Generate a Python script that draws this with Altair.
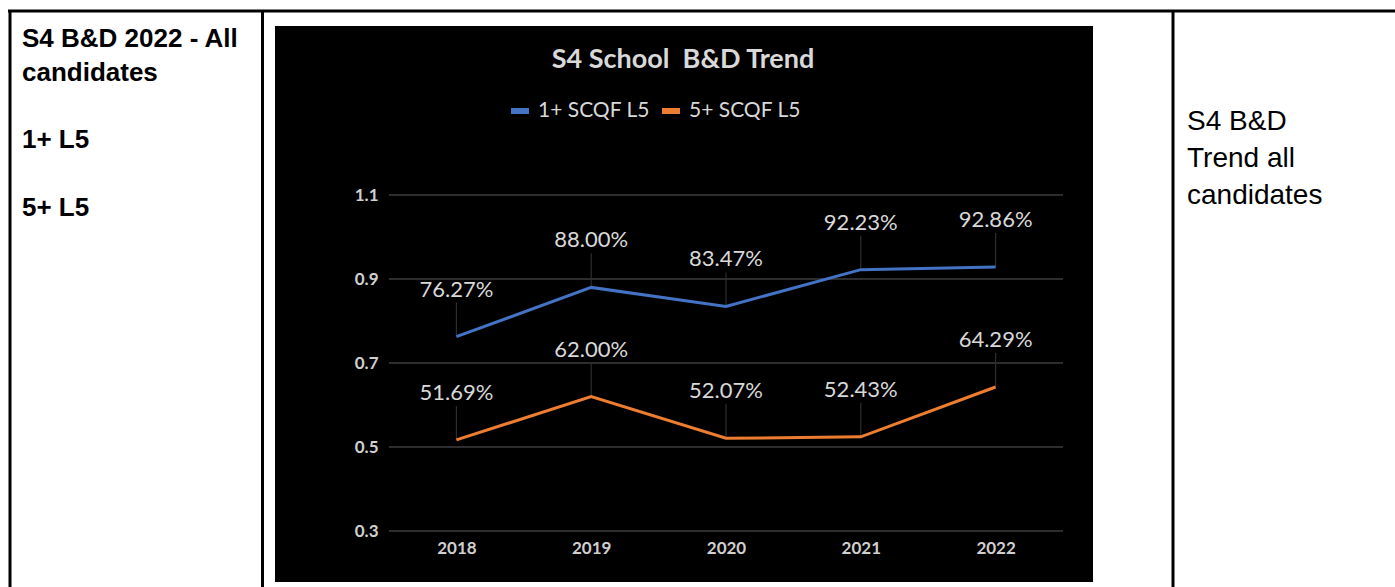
import altair as alt
import pandas as pd

# ---- data ----
years = ["2018", "2019", "2020", "2021", "2022"]
series_names = ["1+ SCQF L5", "5+ SCQF L5"]
one_plus_l5 = [0.7627, 0.8800, 0.8347, 0.9223, 0.9286]
five_plus_l5 = [0.5169, 0.6200, 0.5207, 0.5243, 0.6429]
y_ticks = [0.3, 0.5, 0.7, 0.9, 1.1]
chart_title = "S4 School\u00a0 B&D Trend"
left_cell_lines = ["S4 B&D 2022 - All", "candidates", "1+ L5", "5+ L5"]
right_cell_lines = ["S4 B&D", "Trend all", "candidates"]
series_colors = ["#4472C4", "#ED7D31"]

rows = []
for name, vals in zip(series_names, [one_plus_l5, five_plus_l5]):
    for yr, v in zip(years, vals):
        rows.append({"year": yr, "series": name, "value": v})
df = pd.DataFrame(rows)

# layout (plot area origin at 389,195 in page pixels)
W, H = 674, 336
OX, OY = 389, 195

x_enc = alt.X("year:O", scale=alt.Scale(type="point", padding=0.5, domain=years),
              axis=alt.Axis(title=None, labelAngle=0, domain=False, ticks=False, grid=False,
                            labelFont="Lato", labelFontSize=17, labelFontWeight="bold",
                            labelColor="#d0d0d0", labelPadding=9, zindex=2))
y_scale = alt.Scale(domain=[0.3, 1.1], nice=False, zero=False)
y_enc = alt.Y("value:Q", scale=y_scale,
              axis=alt.Axis(title=None, values=y_ticks, format=".1f", domain=False, ticks=False,
                            grid=False, labelFont="Lato", labelFontSize=17, labelFontWeight="bold",
                            labelColor="#d0d0d0", labelPadding=11, zindex=2))

one = alt.Data(values=[{}])

black_bg = alt.Chart(one).mark_rect(color="black").encode(
    x=alt.value(275 - OX), x2=alt.value(1093 - OX),
    y=alt.value(26 - OY), y2=alt.value(582 - OY))

grid = alt.Chart(pd.DataFrame({"value": y_ticks})).mark_rule(color="#3c3c3c", strokeWidth=1.3).encode(
    y=y_enc, x=alt.value(0), x2=alt.value(W))

leaders = alt.Chart(df).mark_rule(color="#2e2e2e", strokeWidth=1.2, y2Offset=-34).encode(
    x=x_enc, y=y_enc, y2="value:Q")

lines = alt.Chart(df).mark_line(strokeWidth=3).encode(
    x=x_enc, y=y_enc,
    color=alt.Color("series:N",
                    scale=alt.Scale(domain=series_names, range=series_colors),
                    legend=alt.Legend(title=None, orient="none", direction="horizontal",
                                      legendX=119, legendY=-96, padding=0,
                                      symbolType="M-1,0H1", symbolSize=324,
                                      symbolStrokeWidth=6, labelOffset=6,
                                      columnPadding=0,
                                      labelFont="Lato", labelFontSize=21,
                                      labelColor="#d9d9d9")))

labels = alt.Chart(df).mark_text(font="Lato", fontSize=22, color="#d9d9d9", dy=-47).encode(
    x=x_enc, y=y_enc, text=alt.Text("value:Q", format=".2%"))

title = alt.Chart(pd.DataFrame({"t": [chart_title]})).mark_text(
    font="Lato", fontSize=27, fontWeight="bold", color="#d9d9d9").encode(
    text="t:N", x=alt.value(683 - OX), y=alt.value(60 - OY))

border_color = "black"
borders = [
    alt.Chart(one).mark_rule(color=border_color, strokeWidth=3).encode(
        x=alt.value(8 - OX), x2=alt.value(1395 - OX), y=alt.value(11 - OY)),
    alt.Chart(one).mark_rule(color=border_color, strokeWidth=3).encode(
        x=alt.value(10 - OX), y=alt.value(10 - OY), y2=alt.value(587 - OY)),
    alt.Chart(one).mark_rule(color=border_color, strokeWidth=3).encode(
        x=alt.value(262.5 - OX), y=alt.value(10 - OY), y2=alt.value(587 - OY)),
    alt.Chart(one).mark_rule(color=border_color, strokeWidth=3).encode(
        x=alt.value(1173 - OX), y=alt.value(10 - OY), y2=alt.value(587 - OY)),
]

left_baselines = [47, 81, 148, 216]
left_texts = [
    alt.Chart(pd.DataFrame({"t": [txt]})).mark_text(
        font="Liberation Sans", fontSize=26, fontWeight="bold", color="black",
        align="left", baseline="alphabetic").encode(
        text="t:N", x=alt.value(22 - OX), y=alt.value(b - OY))
    for txt, b in zip(left_cell_lines, left_baselines)
]

right_baselines = [130, 167, 204]
right_texts = [
    alt.Chart(pd.DataFrame({"t": [txt]})).mark_text(
        font="Liberation Sans", fontSize=28, color="black",
        align="left", baseline="alphabetic").encode(
        text="t:N", x=alt.value(1187 - OX), y=alt.value(b - OY))
    for txt, b in zip(right_cell_lines, right_baselines)
]

chart = alt.layer(black_bg, grid, leaders, lines, labels, title, *borders,
                  *left_texts, *right_texts).properties(
    width=W, height=H,
    padding={"left": OX, "top": OY, "right": 1395 - OX - W, "bottom": 587 - OY - H},
    autosize=alt.AutoSizeParams(type="none"),
    background="white",
).configure_view(stroke=None)

chart.save("out.html", embed_options={"renderer": "svg", "actions": False})
